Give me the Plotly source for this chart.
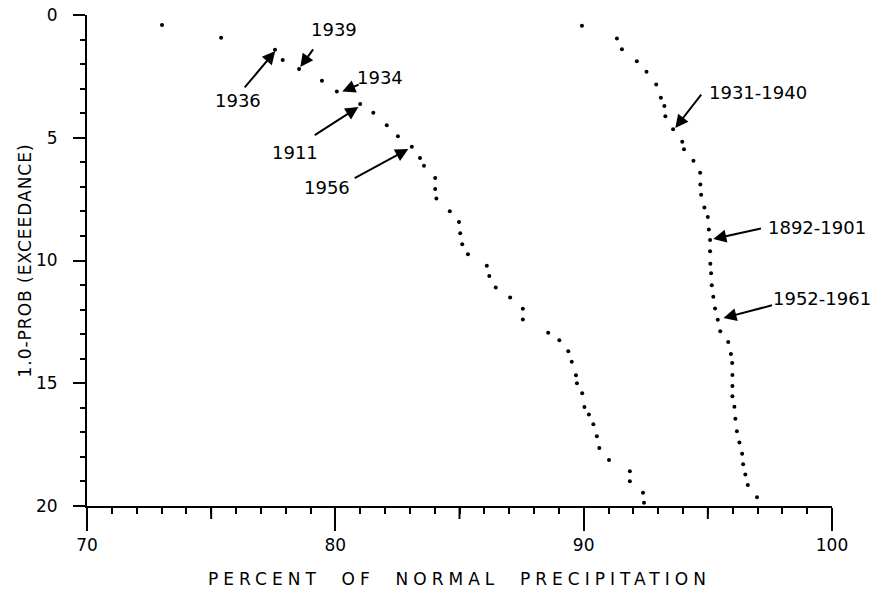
import plotly.graph_objects as go

# Lower curve (individual years) : percent of normal precipitation vs 1.0-prob (exceedance)
annual_pct = [73.02, 75.40, 77.57, 77.88, 78.54, 79.46, 80.06, 81.00, 81.53, 82.07,
              82.52, 83.08, 83.41, 83.57, 84.02, 84.02, 84.07, 84.61, 84.98, 85.03,
              85.11, 85.34, 86.10, 86.20, 86.46, 87.04, 87.55, 87.55, 88.57, 89.02,
              89.38, 89.52, 89.69, 89.73, 89.94, 90.03, 90.21, 90.39, 90.53, 90.63,
              91.02, 91.86, 91.86, 92.39, 92.43]
annual_prob = [0.41, 0.93, 1.42, 1.83, 2.20, 2.68, 3.12, 3.63, 3.98, 4.49,
               4.94, 5.37, 5.82, 6.14, 6.64, 7.09, 7.47, 7.99, 8.43, 8.89,
               9.34, 9.75, 10.21, 10.63, 11.10, 11.51, 11.97, 12.40, 12.94, 13.25,
               13.70, 14.12, 14.67, 15.00, 15.41, 15.97, 16.27, 16.67, 17.16, 17.64,
               18.13, 18.58, 18.99, 19.46, 19.87]

# 10-year periods
decade_pct = [89.93, 91.34, 91.54, 92.14, 92.53, 92.92, 93.11, 93.25, 93.29, 93.60,
              93.97, 94.04, 94.42, 94.69, 94.70, 94.73, 94.86, 95.00, 95.04, 95.09,
              95.09, 95.10, 95.13, 95.16, 95.22, 95.29, 95.40, 95.50, 95.82, 95.93,
              95.98, 95.99, 95.99, 95.99, 96.07, 96.11, 96.17, 96.27, 96.38, 96.42,
              96.51, 96.61, 96.98]
decade_prob = [0.44, 0.96, 1.40, 1.88, 2.31, 2.83, 3.37, 3.71, 4.12, 4.65,
               5.16, 5.47, 5.94, 6.43, 6.90, 7.32, 7.84, 8.23, 8.74, 9.17,
               9.62, 10.13, 10.52, 11.01, 11.48, 11.96, 12.41, 12.88, 13.32, 13.81,
               14.18, 14.66, 15.11, 15.53, 15.96, 16.45, 16.96, 17.41, 17.87, 18.30,
               18.72, 19.14, 19.64]

x_ticks = [70, 80, 90, 100]
y_ticks = [0, 5, 10, 15, 20]
x_mid_ticks = [75, 85, 95]

labels = ["1939", "1936", "1934", "1911", "1956", "1931-1940", "1892-1901", "1952-1961"]
label_x = [79.96, 76.09, 81.81, 78.39, 79.68, 97.04, 99.40, 99.60]
label_y = [0.61, 3.50, 2.53, 5.62, 7.01, 3.14, 8.64, 11.53]
tail_x = [79.15, 76.30, 81.00, 79.11, 80.72, 94.78, 97.20, 97.64]
tail_y = [1.34, 3.01, 2.81, 4.93, 6.68, 3.18, 8.68, 11.81]
head_x = [78.59, 77.58, 80.28, 80.93, 82.94, 93.69, 95.22, 95.63]
head_y = [2.12, 1.47, 3.12, 3.75, 5.46, 4.60, 9.12, 12.34]

FONT = "DejaVu Sans"

fig = go.Figure()
fig.add_trace(go.Scatter(x=annual_pct, y=annual_prob, mode="markers",
                         marker=dict(size=4, color="black"), cliponaxis=False,
                         showlegend=False, hoverinfo="x+y"))
fig.add_trace(go.Scatter(x=decade_pct, y=decade_prob, mode="markers",
                         marker=dict(size=4, color="black"), cliponaxis=False,
                         showlegend=False, hoverinfo="x+y"))

annotations = []
for t, lx, ly in zip(labels, label_x, label_y):
    annotations.append(dict(x=lx, y=ly, xref="x", yref="y", text=t, showarrow=False,
                            font=dict(family=FONT, size=18, color="black"),
                            xanchor="center", yanchor="middle"))
for txx, tyy, hx, hy in zip(tail_x, tail_y, head_x, head_y):
    annotations.append(dict(x=hx, y=hy, xref="x", yref="y", ax=txx, ay=tyy,
                            axref="x", ayref="y", text="", showarrow=True,
                            arrowhead=2, arrowsize=1.3, arrowwidth=2,
                            arrowcolor="black", standoff=0, startstandoff=0))

shapes = []
for v in x_mid_ticks:
    shapes.append(dict(type="line", xref="x", yref="paper", x0=v, x1=v,
                       y0=0, y1=-13 / 491, line=dict(color="black", width=2)))

fig.update_layout(
    width=875, height=599,
    margin=dict(l=87, r=43, t=15, b=93, autoexpand=False),
    paper_bgcolor="white", plot_bgcolor="white",
    font=dict(family=FONT, size=17, color="black"),
    annotations=annotations,
    shapes=shapes,
    xaxis=dict(range=[70, 100], tickvals=x_ticks, ticks="outside", ticklen=23,
               tickwidth=2, tickcolor="black", showline=True, linewidth=2,
               linecolor="black", showgrid=False, zeroline=False, automargin=False,
               tickfont=dict(family=FONT, size=17), ticklabeloverflow="allow",
               minor=dict(dtick=1, ticks="outside", ticklen=6, tickwidth=1.5,
                          tickcolor="black", showgrid=False),
               title=dict(text='<span style="letter-spacing:5px">PERCENT  OF  NORMAL  PRECIPITATION</span>',
                          font=dict(family=FONT, size=17), standoff=19)),
    yaxis=dict(range=[20, 0], tickvals=y_ticks, ticks="outside", ticklen=12,
               tickwidth=2, tickcolor="black", showline=True, linewidth=2,
               linecolor="black", showgrid=False, zeroline=False, automargin=False,
               tickfont=dict(family=FONT, size=17), ticklabelstandoff=12,
               ticklabeloverflow="allow",
               minor=dict(dtick=1, ticks="outside", ticklen=5, tickwidth=1.5,
                          tickcolor="black", showgrid=False),
               title=dict(text='<span style="letter-spacing:1px">1.0-PROB (EXCEEDANCE)</span>',
                          font=dict(family=FONT, size=17), standoff=0)),
)

fig.write_html("out.html", config={"displayModeBar": False},
               post_script="document.body.style.margin='0';")
